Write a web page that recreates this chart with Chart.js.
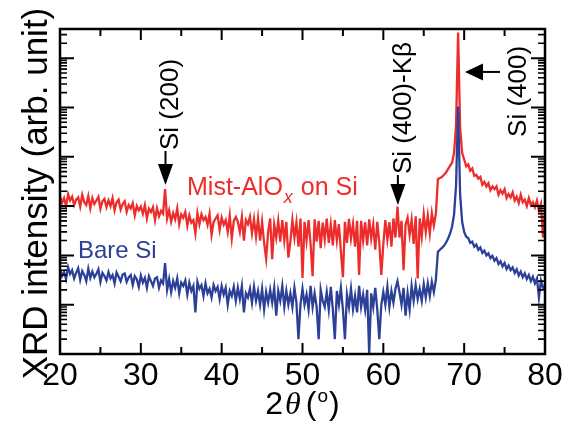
<!DOCTYPE html>
<html>
<head>
<meta charset="utf-8">
<script src="https://cdn.jsdelivr.net/npm/chart.js@4.4.0/dist/chart.umd.min.js"></script>
<style>
  html, body { margin: 0; background: #fff; }
</style>
</head>
<body>
<canvas id="xrd" width="567" height="421"></canvas>
<script>
// scan: 2theta from 20 to 80 deg, step 0.25 deg (counts)
const scanStart = 20;
const scanStep = 0.25;

const mistAlOx = [
  1600, 1150, 1450, 1000, 1750, 1300, 1550, 1050,   // 20-22
  1350, 1500, 980, 1700, 1200, 1050, 1600, 900,     // 22-24
  1450, 1100, 1300, 1550, 880, 1250, 1400, 950,     // 24-26
  1300, 1000, 1450, 820, 1200, 1350, 850, 1100,     // 26-28
  1250, 760, 1050, 900, 1150, 650, 1000, 820,       // 28-30
  980, 700, 1050, 560, 880, 760, 950, 520,          // 30-32
  900, 620, 800, 700, 2200, 560, 820, 480,          // 32-34
  720, 540, 900, 430, 680, 580, 760, 400,           // 34-36
  650, 460, 520, 280, 720, 430, 680, 520,           // 36-38
  600, 420, 700, 260, 470, 560, 650, 330,           // 38-40
  580, 420, 520, 300, 640, 220, 500, 600,           // 40-42
  480, 300, 600, 200, 520, 430, 610, 280,           // 42-44
  540, 240, 560, 200, 480, 180, 86, 300,            // 44-46
  560, 84, 420, 230, 500, 190, 520, 200,            // 46-48
  480, 90, 190, 520, 230, 470, 150, 560,            // 48-50
  35, 480, 200, 520, 170, 38, 540, 190,             // 50-52
  500, 140, 460, 210, 560, 180, 420, 160,           // 52-54
  520, 200, 430, 120, 36, 480, 180, 550,            // 54-56
  220, 430, 150, 500, 40, 500, 200, 470,            // 56-58
  160, 540, 220, 420, 130, 480, 180, 40,            // 58-60
  170, 520, 210, 470, 150, 560, 230, 980,           // 60-62
  230, 500, 50, 420, 580, 260, 520, 170,            // 62-64
  620, 34, 560, 240, 680, 300, 640, 280,            // 64-66
  720, 400, 700, 3500, 3700, 3900, 4300, 4800,      // 66-68
  5600, 6500, 7600, 12000, 45000, 3300000, 38000, 12000, // 68-70
  8800, 6400, 7000, 5200, 5800, 4100, 4300, 3600,   // 70-72
  3900, 2700, 3100, 2500, 2900, 2100, 2500, 2200,   // 72-74
  2500, 1700, 2100, 1800, 2200, 1450, 1750, 1500,   // 74-76
  1900, 1300, 1550, 1150, 1700, 1200, 1350, 1000,   // 76-78
  1450, 1050, 1200, 950, 1300, 800, 1100, 230,      // 78-80
  760
];

const bareSi = [
  52, 38, 46, 33, 58, 42, 50, 34,                   // 20-22
  44, 55, 32, 48, 40, 30, 54, 35,                   // 22-24
  47, 36, 42, 52, 29, 44, 38, 31,                   // 24-26
  46, 34, 40, 27, 45, 37, 30, 41,                   // 26-28
  43, 29, 36, 40, 25, 38, 33, 23,                   // 28-30
  39, 28, 35, 22, 38, 30, 24, 34,                   // 30-32
  36, 22, 31, 27, 70, 20, 33, 18,                   // 32-34
  30, 22, 34, 17, 28, 24, 31, 16,                   // 34-36
  28, 19, 24, 7, 29, 21, 25, 15,                    // 36-38
  27, 17, 21, 14, 25, 19, 23, 13,                   // 38-40
  24, 16, 22, 10, 19, 15, 23, 12,                   // 40-42
  22, 13, 24, 7, 17, 14, 21, 11,                    // 42-44
  23, 12, 19, 10, 21, 8, 18, 11,                    // 44-46
  20, 11, 22, 6, 19, 12, 24, 9,                     // 46-48
  19, 10, 17, 9, 22, 11, 2, 10,                     // 48-50
  21, 10, 16, 8, 24, 9, 17, 9,                      // 50-52
  2, 20, 12, 9, 18, 8, 23, 8,                       // 52-54
  2, 19, 10, 22, 8, 2, 16, 9,                       // 54-56
  21, 8, 15, 7, 24, 9, 16, 8,                       // 56-58
  20, 1, 17, 9, 22, 8, 2, 10,                       // 58-60
  18, 10, 23, 9, 19, 11, 21, 30,                    // 60-62
  18, 10, 22, 6, 17, 8, 24, 12,                     // 62-64
  25, 13, 21, 12, 26, 14, 27, 15,                   // 64-66
  29, 18, 32, 118, 130, 142, 156, 180,              // 66-68
  217, 275, 380, 670, 2700, 105000, 1700, 480,      // 68-70
  300, 240, 225, 180, 190, 150, 165, 130,           // 70-72
  145, 112, 125, 100, 110, 88, 98, 78,              // 72-74
  88, 67, 76, 60, 70, 53, 62, 50,                   // 74-76
  57, 44, 52, 39, 47, 36, 43, 33,                   // 76-78
  40, 30, 37, 27, 34, 14, 31, 22,                   // 78-80
  24
];

const xMajorTicks = [20, 30, 40, 50, 60, 70, 80];
const xMinorTicks = [25, 35, 45, 55, 65, 75];
const yDecades = [1, 10, 100, 1e3, 1e4, 1e5, 1e6];

// peak markers: angle of the arrow and intensity at the arrow tip
const peakMarks = [
  { text: 'Si (200)', angle: 33.05, tip: 2675, dir: 'down' },
  { text: 'Si (400)-K\u03b2', angle: 61.8, tip: 1050, dir: 'down' },
  { text: 'Si (400)', angle: 70.1, tip: 525000, dir: 'left' }
];

const RED = 'rgb(236,45,43)';
const BLUE = 'rgb(44,64,152)';

function toPoints(values) {
  return values.map((v, i) => ({ x: scanStart + i * scanStep, y: v }));
}

function arrowDown(ctx, x, tipY, shaft) {
  ctx.beginPath();
  ctx.moveTo(x, tipY - 20 - shaft);
  ctx.lineTo(x, tipY - 18);
  ctx.stroke();
  ctx.beginPath();
  ctx.moveTo(x, tipY);
  ctx.lineTo(x - 7.5, tipY - 21);
  ctx.lineTo(x + 7.5, tipY - 21);
  ctx.closePath();
  ctx.fill();
}

function arrowLeft(ctx, tipX, y, shaft) {
  ctx.beginPath();
  ctx.moveTo(tipX + 15, y);
  ctx.lineTo(tipX + 17 + shaft, y);
  ctx.stroke();
  ctx.beginPath();
  ctx.moveTo(tipX, y);
  ctx.lineTo(tipX + 18, y - 8.5);
  ctx.lineTo(tipX + 18, y + 8.5);
  ctx.closePath();
  ctx.fill();
}

function vText(ctx, text, x, y, font) {
  ctx.save();
  ctx.translate(x, y);
  ctx.rotate(-Math.PI / 2);
  ctx.font = font;
  ctx.textAlign = 'left';
  ctx.textBaseline = 'alphabetic';
  ctx.fillText(text, 0, 0);
  ctx.restore();
}

const axesPlugin = {
  id: 'axesPlugin',
  afterDatasetsDraw(chart) {
    const { ctx, chartArea: a, scales: { x, y } } = chart;
    ctx.save();
    ctx.strokeStyle = '#000';
    ctx.fillStyle = '#000';

    // x ticks, bottom and top, pointing in
    const xTick = (v, len) => {
      const px = x.getPixelForValue(v);
      ctx.beginPath();
      ctx.moveTo(px, a.bottom); ctx.lineTo(px, a.bottom - len);
      ctx.moveTo(px, a.top); ctx.lineTo(px, a.top + len);
      ctx.stroke();
    };
    ctx.lineWidth = 2;
    xMajorTicks.forEach(v => xTick(v, 11));
    xMinorTicks.forEach(v => xTick(v, 7));

    // log y ticks, left and right
    yDecades.forEach(d => {
      for (let m = 1; m <= 9; m++) {
        const v = m * d;
        if (v > y.max) break;
        const py = y.getPixelForValue(v);
        const len = m === 1 ? 14 : 7;
        ctx.lineWidth = m === 1 ? 2 : 1.6;
        ctx.beginPath();
        ctx.moveTo(a.left, py); ctx.lineTo(a.left + len, py);
        ctx.moveTo(a.right, py); ctx.lineTo(a.right - len, py);
        ctx.stroke();
      }
    });

    ctx.lineWidth = 2.5;
    ctx.strokeRect(a.left, a.top, a.right - a.left, a.bottom - a.top);

    // x tick labels
    ctx.font = '32px "Liberation Sans", Arial, sans-serif';
    ctx.textAlign = 'center';
    ctx.textBaseline = 'alphabetic';
    xMajorTicks.forEach(v => ctx.fillText(String(v), x.getPixelForValue(v), a.bottom + 31));

    // x title: 2θ (°)
    const sans = '32px "Liberation Sans", Arial, sans-serif';
    const parts = [
      { t: '2', f: sans, dy: 0, gap: 2 },
      { t: '\u03b8', f: 'italic 32px "Liberation Serif", "Times New Roman", serif', dy: 0, gap: 5 },
      { t: '(', f: sans, dy: 0, gap: 1 },
      { t: 'o', f: '19px "Liberation Sans", Arial, sans-serif', dy: -12, gap: 1 },
      { t: ')', f: sans, dy: 0, gap: 0 }
    ];
    let total = 0;
    parts.forEach(p => { ctx.font = p.f; p.w = ctx.measureText(p.t).width; total += p.w + p.gap; });
    let cx = (a.left + a.right) / 2 - total / 2;
    ctx.textAlign = 'left';
    parts.forEach(p => {
      ctx.font = p.f;
      ctx.fillText(p.t, cx, a.bottom + 60 + p.dy);
      cx += p.w + p.gap;
    });

    // y title
    ctx.save();
    ctx.translate(47, (a.top + a.bottom) / 2 + 2);
    ctx.rotate(-Math.PI / 2);
    ctx.font = '35px "Liberation Sans", Arial, sans-serif';
    ctx.textAlign = 'center';
    ctx.fillText('XRD intensity (arb. unit)', 0, 0);
    ctx.restore();

    // peak markers
    ctx.lineWidth = 2;
    const markFont = '26px "Liberation Sans", Arial, sans-serif';
    peakMarks.forEach(m => {
      const px = x.getPixelForValue(m.angle);
      const py = y.getPixelForValue(m.tip);
      if (m.dir === 'down') {
        const shaft = m.angle < 40 ? 14 : 10;
        arrowDown(ctx, px, py, shaft);
        vText(ctx, m.text, px + 13, py - 21 - shaft, markFont);
      } else {
        arrowLeft(ctx, px, py, 18);
        vText(ctx, m.text, px + 61, py + 65, markFont);
      }
    });

    // series labels
    ctx.textAlign = 'left';
    ctx.fillStyle = RED;
    let lx = 187;
    ctx.font = '25px "Liberation Sans", Arial, sans-serif';
    ctx.fillText('Mist-AlO', lx, 195);
    lx += ctx.measureText('Mist-AlO').width + 1;
    ctx.font = 'italic 18px "Liberation Sans", Arial, sans-serif';
    ctx.fillText('x', lx, 203);
    lx += ctx.measureText('x').width + 8;
    ctx.font = '25px "Liberation Sans", Arial, sans-serif';
    ctx.fillText('on Si', lx, 195);

    ctx.fillStyle = BLUE;
    ctx.font = '24px "Liberation Sans", Arial, sans-serif';
    ctx.fillText('Bare Si', 78, 258);

    ctx.restore();
  }
};

new Chart(document.getElementById('xrd'), {
  type: 'line',
  data: {
    datasets: [
      { label: 'Bare Si', data: toPoints(bareSi), borderColor: BLUE, borderWidth: 2.3 },
      { label: 'Mist-AlOx on Si', data: toPoints(mistAlOx), borderColor: RED, borderWidth: 2.3 }
    ]
  },
  options: {
    responsive: false,
    animation: false,
    devicePixelRatio: 1,
    layout: { padding: { left: 60, right: 22, top: 29, bottom: 67 } },
    elements: { point: { radius: 0 }, line: { tension: 0, borderJoinStyle: 'miter' } },
    plugins: { legend: { display: false }, tooltip: { enabled: false } },
    scales: {
      x: { type: 'linear', min: 20, max: 80, display: false },
      y: { type: 'logarithmic', min: 1, max: 3.9e6, display: false }
    }
  },
  plugins: [axesPlugin]
});
</script>
</body>
</html>
